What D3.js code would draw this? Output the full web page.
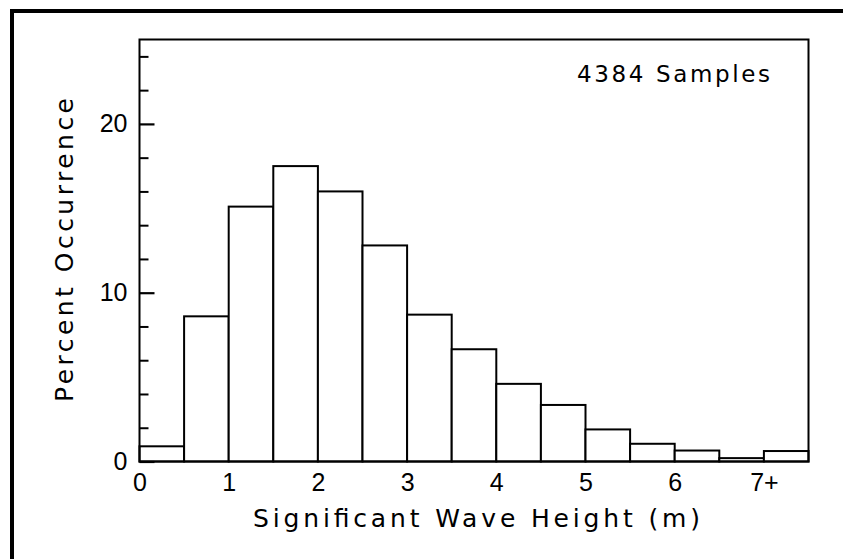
<!DOCTYPE html>
<html>
<head>
<meta charset="utf-8">
<script src="https://cdn.jsdelivr.net/npm/d3@7/dist/d3.min.js"></script>
<style>
  html, body { margin: 0; padding: 0; background: #fff; }
  svg { display: block; }
  text { font-family: "DejaVu Sans", "Liberation Sans", Arial, sans-serif; fill: #000; }
</style>
</head>
<body>
<svg id="chart" width="843" height="559"></svg>
<script>
// ---- data ----
const binStarts = [0, 0.5, 1, 1.5, 2, 2.5, 3, 3.5, 4, 4.5, 5, 5.5, 6, 6.5, 7];
const binWidth = 0.5;
const percentOccurrence = [0.9, 8.6, 15.1, 17.5, 16.0, 12.8, 8.7, 6.65, 4.6, 3.35, 1.9, 1.05, 0.65, 0.2, 0.62];
const xTickValues = [0, 1, 2, 3, 4, 5, 6, 7];
const xTickLabels = ["0", "1", "2", "3", "4", "5", "6", "7+"];
const yMajorTicks = [0, 10, 20];
const yMinorTicks = [2, 4, 6, 8, 12, 14, 16, 18, 22, 24];
const annotation = "4384 Samples";
const xTitle = "Significant Wave Height (m)";
const yTitle = "Percent Occurrence";

// ---- layout ----
const svg = d3.select("#chart");
const plotLeft = 139.5, plotRight = 808.5, plotTop = 39.5, plotBottom = 461.5;
const x = d3.scaleLinear().domain([0, 7.5]).range([plotLeft, plotRight]);
const y = d3.scaleLinear().domain([0, 25]).range([plotBottom, plotTop]);

// outer frame (top and left edges)
svg.append("rect").attr("x", 10).attr("y", 9).attr("width", 833).attr("height", 4).attr("fill", "#000");
svg.append("rect").attr("x", 10).attr("y", 9).attr("width", 4).attr("height", 550).attr("fill", "#000");

// bars
svg.append("g").selectAll("rect")
  .data(binStarts.map((s, i) => ({ s, v: percentOccurrence[i] })))
  .join("rect")
  .attr("x", d => x(d.s))
  .attr("y", d => y(d.v))
  .attr("width", d => x(d.s + binWidth) - x(d.s))
  .attr("height", d => y(0) - y(d.v))
  .attr("fill", "#fff")
  .attr("stroke", "#000")
  .attr("stroke-width", 2);

// plot box
svg.append("rect")
  .attr("x", plotLeft).attr("y", plotTop)
  .attr("width", plotRight - plotLeft).attr("height", plotBottom - plotTop)
  .attr("fill", "none").attr("stroke", "#000").attr("stroke-width", 2);

// y axis major ticks (inward) with labels
const yMajor = svg.append("g").attr("transform", `translate(${plotLeft},0)`)
  .call(d3.axisLeft(y).tickValues(yMajorTicks).tickSize(-15).tickPadding(12).tickFormat(d3.format("d")));
yMajor.select(".domain").remove();
yMajor.selectAll("line").attr("stroke", "#000").attr("stroke-width", 2.2);
yMajor.selectAll("text").style("font-size", "25px").style("font-family", "Liberation Sans, Arial, sans-serif");

// y axis minor ticks
const yMinor = svg.append("g").attr("transform", `translate(${plotLeft},0)`)
  .call(d3.axisLeft(y).tickValues(yMinorTicks).tickSize(-9).tickFormat(""));
yMinor.select(".domain").remove();
yMinor.selectAll("line").attr("stroke", "#000").attr("stroke-width", 2);

// x axis labels
const xAxis = svg.append("g").attr("transform", `translate(0,${plotBottom})`)
  .call(d3.axisBottom(x).tickValues(xTickValues).tickSize(0).tickPadding(12)
    .tickFormat((d, i) => xTickLabels[i]));
xAxis.select(".domain").remove();
xAxis.selectAll("text").style("font-size", "25px").style("font-family", "Liberation Sans, Arial, sans-serif");

// annotation
svg.append("text")
  .attr("x", 577).attr("y", 82)
  .attr("textLength", 193).attr("lengthAdjust", "spacing")
  .style("font-size", "23px")
  .text(annotation);

// x title
svg.append("text")
  .attr("x", 253).attr("y", 527)
  .attr("textLength", 447).attr("lengthAdjust", "spacing")
  .style("font-size", "25px")
  .text(xTitle);

// y title
svg.append("text")
  .attr("transform", "translate(73,402) rotate(-90)")
  .attr("x", 0).attr("y", 0)
  .attr("textLength", 304).attr("lengthAdjust", "spacing")
  .style("font-size", "25px")
  .text(yTitle);
</script>
</body>
</html>
